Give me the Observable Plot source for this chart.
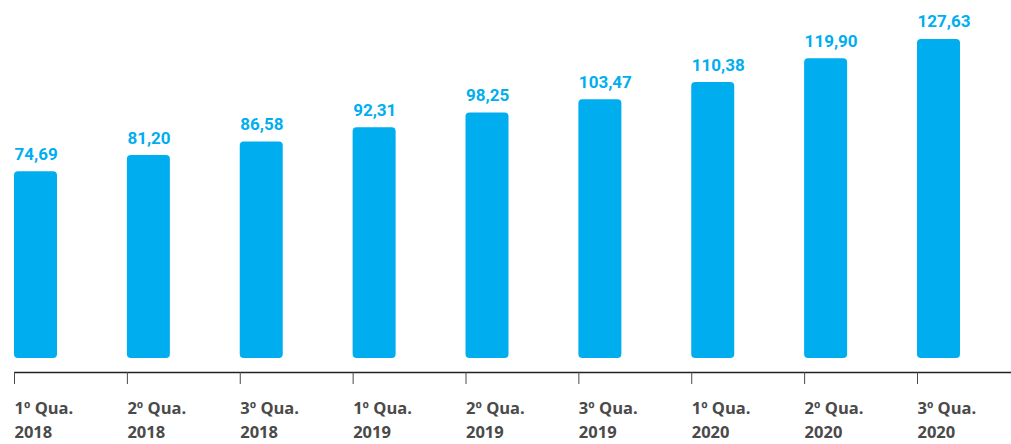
<!DOCTYPE html>
<html>
<head>
<meta charset="utf-8">
<script src="https://cdn.jsdelivr.net/npm/d3@7"></script>
<script src="https://cdn.jsdelivr.net/npm/@observablehq/plot@0.6"></script>
<style>
  html, body { margin: 0; padding: 0; background: #fff; }
  #chart svg { display: block; }
</style>
</head>
<body>
<div id="chart"></div>
<script>
const quarters = ["1º Qua.", "2º Qua.", "3º Qua.", "1º Qua.", "2º Qua.", "3º Qua.", "1º Qua.", "2º Qua.", "3º Qua."];
const years = ["2018", "2018", "2018", "2019", "2019", "2019", "2020", "2020", "2020"];
const values = [74.69, 81.20, 86.58, 92.31, 98.25, 103.47, 110.38, 119.90, 127.63];

const data = values.map((v, i) => ({
  key: quarters[i] + "\n" + years[i],
  value: v,
  label: v.toFixed(2).replace(".", ",")
}));

const BLUE = "#00AEEF";
const GRAY = "#4a4a4a";
const half = -21.5;

const chart = Plot.plot({
  width: 1011,
  height: 444,
  marginLeft: 14,
  marginRight: 0,
  marginTop: 33,
  marginBottom: 72,
  x: { type: "band", domain: data.map(d => d.key), paddingInner: 0.619, paddingOuter: 0, insetRight: 51, round: false, label: null },
  y: { domain: [0, 130], insetBottom: 14, axis: null },
  marks: [
    Plot.barY(data, { x: "key", y: "value", fill: BLUE, rx: 4 }),
    Plot.text(data, {
      x: "key", y: "value", text: "label",
      textAnchor: "start", lineAnchor: "bottom", dx: half, dy: -12,
      fill: BLUE, fontSize: 17, fontWeight: 700, fontFamily: "Roboto"
    }),
    Plot.ruleY([0], { dy: 14, stroke: "#222", strokeWidth: 1.3 }),
    Plot.axisX({
      tickSize: 12, tickPadding: 13, dx: half, textAnchor: "start",
      fontSize: 16.5, fontWeight: 700, fontFamily: "Open Sans",
      lineHeight: 1.42, color: GRAY, label: null
    })
  ]
});
document.getElementById("chart").appendChild(chart);
</script>
</body>
</html>
